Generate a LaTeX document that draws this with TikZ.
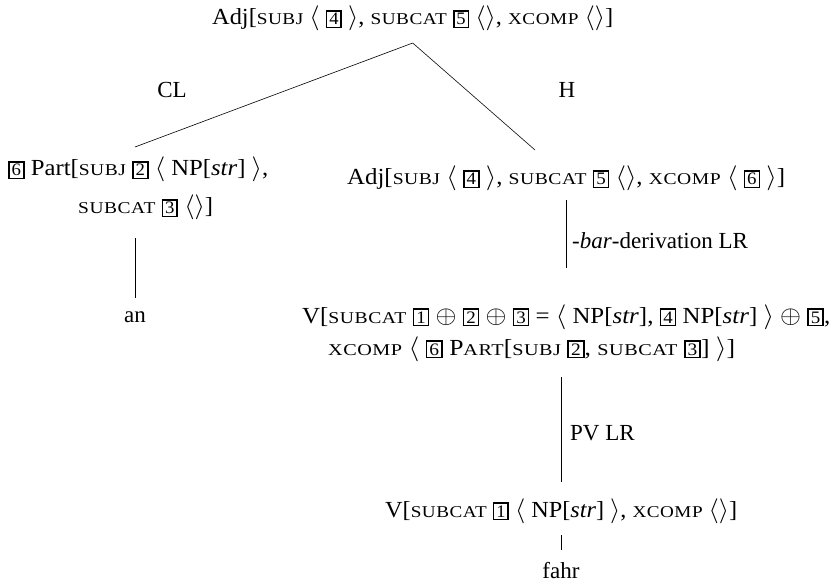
\documentclass[tikz,border=0pt]{standalone}
\usepackage{graphicx}
\usepackage{fontspec}
\setmainfont{Liberation Serif}
\newfontfamily\scfont[FakeStretch=1.1,LetterSpace=3]{Liberation Serif}
\newcommand\mainsz{\fontsize{23}{27}\selectfont}
\newcommand\fsc[1]{{\scfont\fontsize{16.5}{19}\selectfont #1}}
\newcommand\bx[1]{{\setlength\fboxsep{1.8pt}\setlength\fboxrule{1.5pt}\fbox{\fontsize{17.5}{19}\selectfont #1}}}
\newcommand\lan{$\langle$}
\newcommand\ran{$\rangle$}
\newcommand\blan{$\big\langle$}
\newcommand\bran{$\big\rangle$}
\newcommand\fitw[2]{\resizebox{#1}{\height}{#2}}
\begin{document}
\begin{tikzpicture}[x=1pt,y=-1pt,
  every node/.style={font=\mainsz, inner sep=0pt},
  lbl/.style={anchor=base west},
  edge/.style={line width=0.6pt}]
\path[use as bounding box] (0,0) rectangle (833,583);

\node[lbl] (top) at (212,25) {\fitw{401pt}{Adj[\fsc{SUBJ} \lan\ \bx{4} \ran, \fsc{SUBCAT}\ \bx{5} \lan\ran, \fsc{XCOMP} \lan\ran]}};
\node (cl) at (172,90) {CL};
\node (h) at (567,90) {H};

\node[lbl] (left1) at (8,176) {\fitw{260pt}{\bx{6} Part[\fsc{SUBJ}\ \bx{2} \lan\ NP[\textit{str}] \ran,}};
\node[lbl] (left2) at (78,214) {\fitw{135pt}{\fsc{SUBCAT}\ \bx{3} \lan\ran]}};
\node[anchor=base] (an) at (135,322) {an};

\node[lbl] (radj) at (347,185) {\fitw{438pt}{Adj[\fsc{SUBJ} \lan\ \bx{4} \ran, \fsc{SUBCAT}\ \bx{5} \lan\ran, \fsc{XCOMP} \blan\ \bx{6} \bran]}};
\node[lbl] (bar) at (572,248) {-\textit{bar}-derivation LR};

\node[lbl] (v1) at (302,323) {\fitw{528pt}{V[\fsc{SUBCAT}\ \bx{1} $\oplus$ \bx{2} $\oplus$ \bx{3} = \lan\ NP[\textit{str}], \bx{4} NP[\textit{str}] \ran\ $\oplus$ \bx{5},}};
\node[lbl] (v2) at (328,355) {\fitw{407pt}{\fsc{XCOMP} \blan\ \bx{6} P\fsc{ART}[\fsc{SUBJ}\ \bx{2}, \fsc{SUBCAT}\ \bx{3}] \bran]}};
\node[lbl] (pv) at (570,440) {PV LR};

\node[lbl] (bv) at (385,517) {\fitw{352pt}{V[\fsc{SUBCAT}\ \bx{1} \lan\ NP[\textit{str}] \ran, \fsc{XCOMP} \lan\ran]}};
\node[anchor=base] (fahr) at (561,578) {fahr};

\coordinate (apex) at (top.south |- 0,43);
\coordinate (lend) at (135,147);
\coordinate (hend) at (535,150);
\draw[edge] (apex) -- (lend);
\draw[edge] (apex) -- (hend);
\draw[edge] (an.north |- 0,238) -- (an.north |- 0,298);
\draw[edge] (v1.north |- 0,200) -- (v1.north |- 0,268);
\draw[edge] (bv.north |- 0,377) -- (bv.north |- 0,482);
\draw[edge] (fahr.north |- 0,535) -- (fahr.north |- 0,550);
\end{tikzpicture}
\end{document}
